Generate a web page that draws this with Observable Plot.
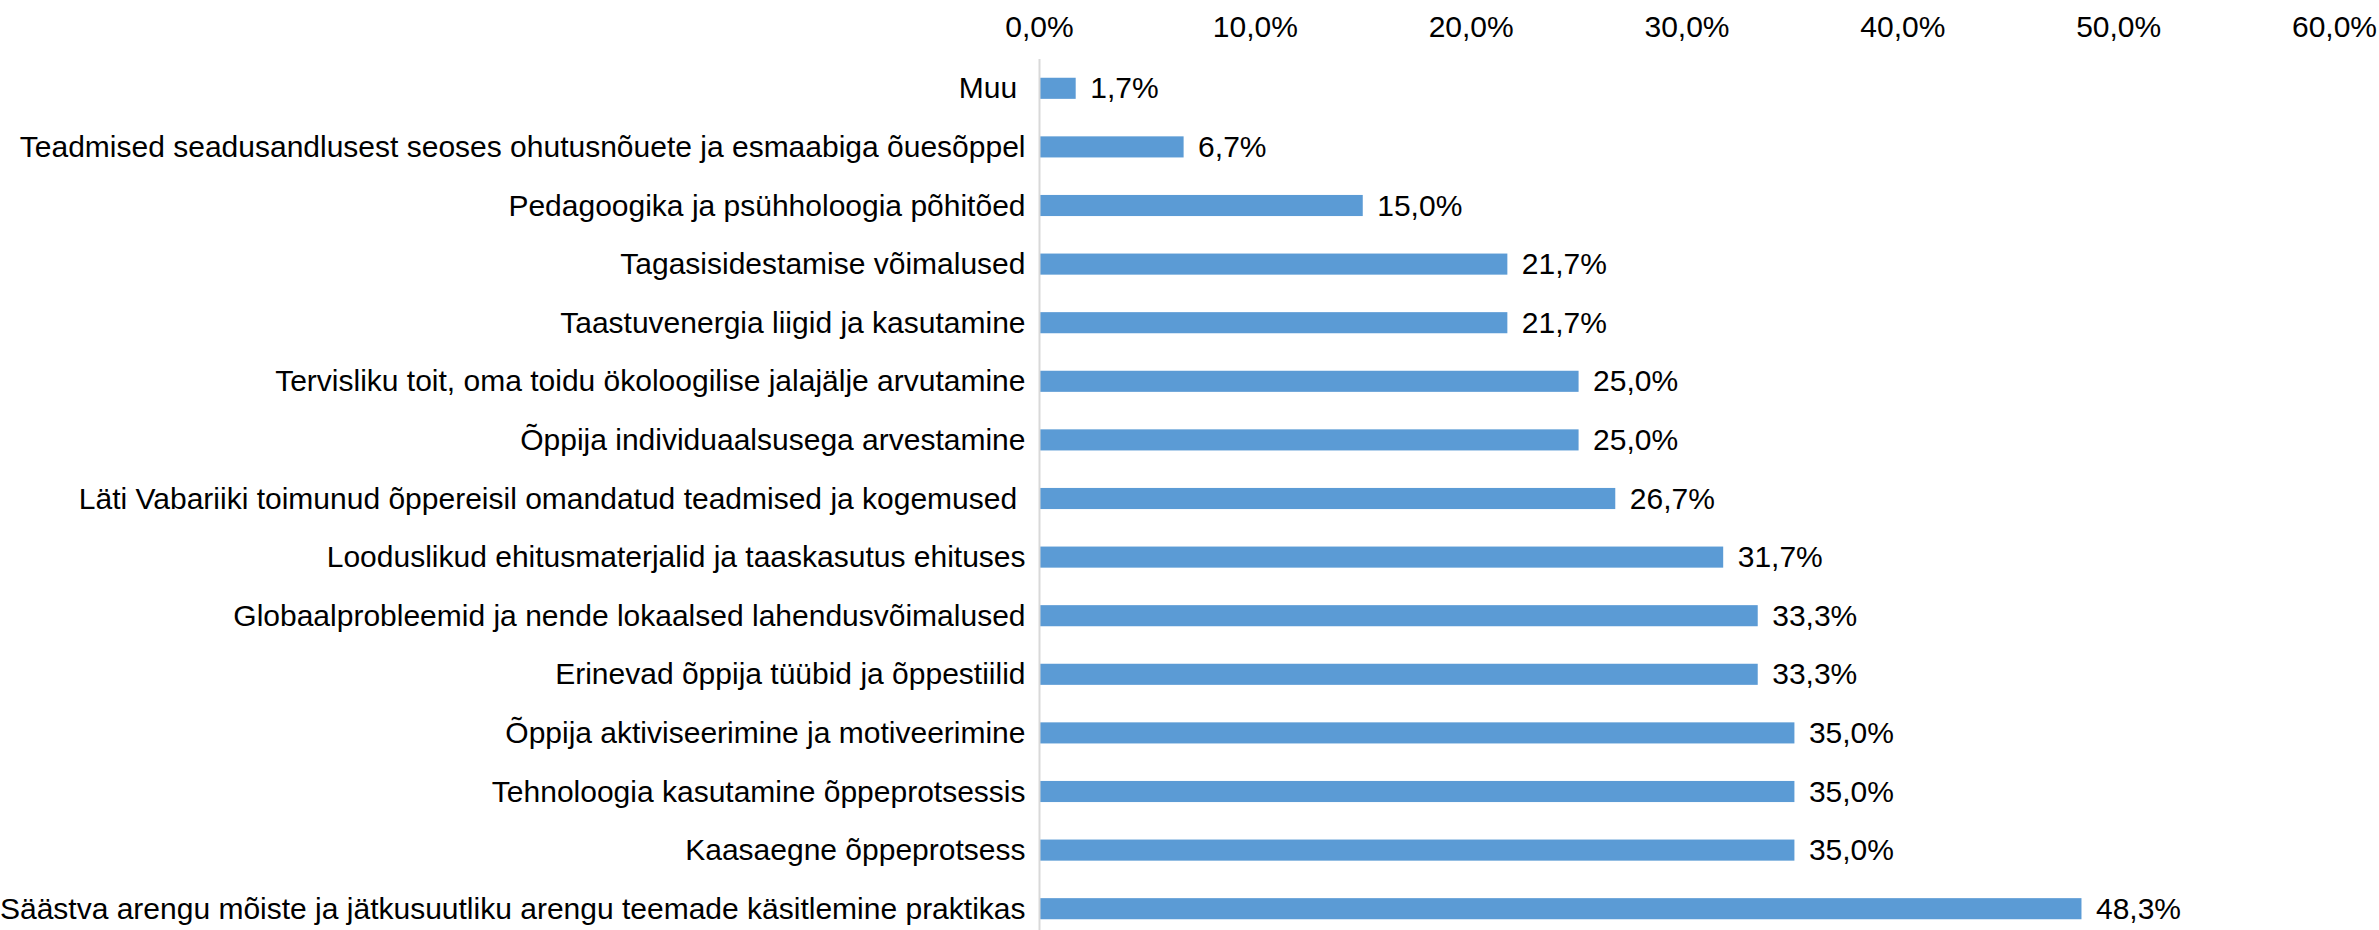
<!DOCTYPE html>
<html>
<head>
<meta charset="utf-8">
<script src="https://cdn.jsdelivr.net/npm/d3@7"></script>
<script src="https://cdn.jsdelivr.net/npm/@observablehq/plot@0.6"></script>
<style>
  html, body { margin: 0; padding: 0; background: #fff; }
  svg { font-family: "Liberation Sans", Arial, sans-serif; }
</style>
</head>
<body>
<div id="chart"></div>
<script>
const categories = [
  "Muu\u00a0",
  "Teadmised seadusandlusest seoses ohutusnõuete ja esmaabiga õuesõppel",
  "Pedagoogika ja psühholoogia põhitõed",
  "Tagasisidestamise võimalused",
  "Taastuvenergia liigid ja kasutamine",
  "Tervisliku toit, oma toidu ökoloogilise jalajälje arvutamine",
  "Õppija individuaalsusega arvestamine",
  "Läti Vabariiki toimunud õppereisil omandatud teadmised ja kogemused\u00a0",
  "Looduslikud ehitusmaterjalid ja taaskasutus ehituses",
  "Globaalprobleemid ja nende lokaalsed lahendusvõimalused",
  "Erinevad õppija tüübid ja õppestiilid",
  "Õppija aktiviseerimine ja motiveerimine",
  "Tehnoloogia kasutamine õppeprotsessis",
  "Kaasaegne õppeprotsess",
  "Säästva arengu mõiste ja jätkusuutliku arengu teemade käsitlemine praktikas"
];
const values = [1.7, 6.7, 15.0, 21.7, 21.7, 25.0, 25.0, 26.7, 31.7, 33.3, 33.3, 35.0, 35.0, 35.0, 48.3];
const xTicks = [0, 10, 20, 30, 40, 50, 60];

const data = categories.map((c, i) => ({category: c, value: values[i]}));
const fmt = v => v.toFixed(1).replace(".", ",") + "%";
const FS = 30;

const chart = Plot.plot({
  width: 2379,
  height: 930,
  marginLeft: 1039,
  marginRight: 45,
  marginTop: 59,
  marginBottom: -8,
  style: {fontFamily: "'Liberation Sans', Arial, sans-serif", fontSize: FS + "px", color: "#000", background: "#fff", overflow: "hidden"},
  x: {domain: [0, 60]},
  y: {domain: categories, paddingInner: 0.64, paddingOuter: 0.32, round: false},
  marks: [
    Plot.axisX({anchor: "top", ticks: xTicks, tickFormat: fmt, tickSize: 0, tickPadding: 23, fontSize: FS, label: null}),
    Plot.axisY({tickSize: 0, tickPadding: 14, fontSize: FS, label: null}),
    Plot.barX(data, {x: "value", y: "category", fill: "#5B9BD5"}),
    Plot.ruleX([0], {stroke: "#d9d9d9", strokeWidth: 2}),
    Plot.text(data, {x: "value", y: "category", text: d => fmt(d.value), textAnchor: "start", dx: 14, fontSize: FS, fill: "#000"})
  ]
});
document.getElementById("chart").appendChild(chart);
</script>
</body>
</html>
